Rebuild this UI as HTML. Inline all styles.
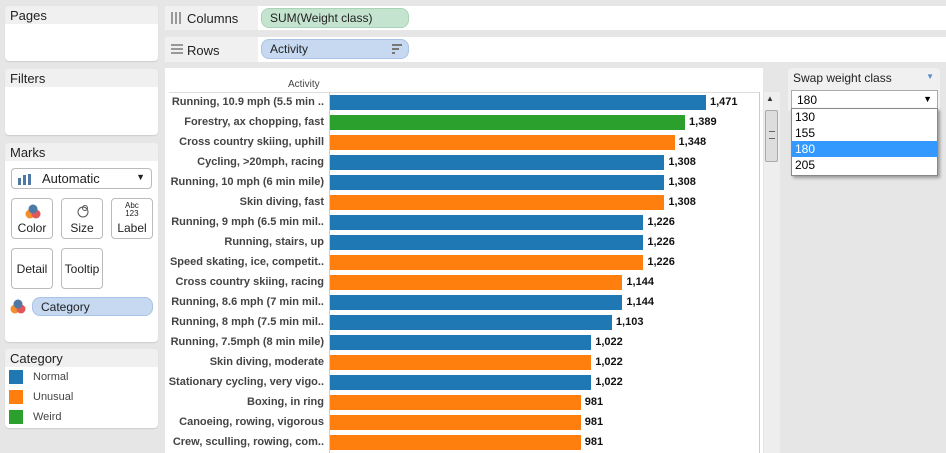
<!DOCTYPE html>
<html><head><meta charset="utf-8">
<style>
body{margin:0;width:946px;height:453px;background:#e6e6e6;font-family:"Liberation Sans",Arial,sans-serif;position:relative;overflow:hidden}
.abs{position:absolute}
.panel{position:absolute;background:#fff;border-radius:4px;box-shadow:0 1px 1px #ccc}
.ph{position:absolute;left:0;right:0;top:0;height:18px;background:#f0f0f0;font-size:13px;color:#222;padding:2px 0 0 5px;box-sizing:border-box;border-radius:4px 4px 0 0}
.card{position:absolute;border:1px solid #bbb;border-radius:4px;background:#fff;font-size:12px;color:#222;text-align:center;box-sizing:border-box}
.pill{position:absolute;border-radius:8px;font-size:12px;color:#222;padding:0 0 0 8px;line-height:18px;box-sizing:border-box;height:20px}
.lab{position:absolute;font-size:11px;font-weight:bold;color:#444;text-align:right;width:160px;left:164px}
.val{position:absolute;font-size:11px;font-weight:bold;color:#111}
</style></head><body>
<div class="panel" style="left:5px;top:6px;width:153px;height:55px"><div class="ph">Pages</div></div>
<div class="panel" style="left:5px;top:69px;width:153px;height:66px"><div class="ph">Filters</div></div>
<div class="panel" style="left:5px;top:143px;width:153px;height:199px"><div class="ph">Marks</div>
 <div class="card" style="left:6px;top:25px;width:141px;height:21px;text-align:left;padding:2px 0 0 30px;font-size:13px">Automatic
  <svg class="abs" style="left:6px;top:5px" width="14" height="11"><rect x="0" y="4" width="3" height="7" fill="#4e79a7"/><rect x="5" y="1" width="3" height="10" fill="#4e79a7"/><rect x="10" y="0" width="3" height="11" fill="#4e79a7"/></svg>
  <span class="abs" style="right:6px;top:3px;font-size:9px">▼</span></div>
 <div class="card" style="left:6px;top:55px;width:42px;height:41px;padding-top:22px">Color<svg class="abs" style="left:13px;top:4px" width="16" height="16"><circle cx="5" cy="11" r="4.5" fill="#f28e2b"/><circle cx="11" cy="11" r="4.5" fill="#e15759"/><circle cx="8" cy="6" r="4.5" fill="#4e79a7"/></svg></div>
 <div class="card" style="left:56px;top:55px;width:42px;height:41px;padding-top:22px">Size<svg class="abs" style="left:13px;top:4px" width="16" height="16"><circle cx="8" cy="9" r="5" fill="none" stroke="#555"/><circle cx="10" cy="5" r="2.5" fill="none" stroke="#555"/></svg></div>
 <div class="card" style="left:106px;top:55px;width:42px;height:41px;padding-top:22px">Label<span class="abs" style="left:13px;top:3px;font-size:8px;line-height:8px">Abc<br>123</span></div>
 <div class="card" style="left:6px;top:105px;width:42px;height:41px;padding-top:13px">Detail</div>
 <div class="card" style="left:56px;top:105px;width:42px;height:41px;padding-top:13px">Tooltip</div>
 <svg class="abs" style="left:5px;top:155px" width="16" height="16"><circle cx="5" cy="11" r="4.5" fill="#f28e2b"/><circle cx="11" cy="11" r="4.5" fill="#e15759"/><circle cx="8" cy="6" r="4.5" fill="#4e79a7"/></svg>
 <div class="pill" style="left:27px;top:154px;width:121px;height:19px;background:#c6d9f1;border:1px solid #a9c3e6">Category</div>
</div>
<div class="panel" style="left:5px;top:349px;width:153px;height:79px"><div class="ph">Category</div>
 <div class="abs" style="left:4px;top:21px;width:14px;height:14px;background:#1f77b4"></div><div class="abs" style="left:28px;top:22px;font-size:11px;color:#444">Normal</div>
 <div class="abs" style="left:4px;top:41px;width:14px;height:14px;background:#ff7f0e"></div><div class="abs" style="left:28px;top:42px;font-size:11px;color:#444">Unusual</div>
 <div class="abs" style="left:4px;top:61px;width:14px;height:14px;background:#2ca02c"></div><div class="abs" style="left:28px;top:62px;font-size:11px;color:#444">Weird</div>
</div>
<div class="abs" style="left:165px;top:6px;width:781px;height:24px;background:#fff">
 <div class="abs" style="left:0;top:0;width:93px;height:24px;background:#f0f0f0"></div>
 <svg class="abs" style="left:6px;top:6px" width="12" height="12"><rect x="0" y="0" width="2" height="12" fill="#999"/><rect x="4" y="0" width="2" height="12" fill="#999"/><rect x="8" y="0" width="2" height="12" fill="#999"/></svg>
 <div class="abs" style="left:22px;top:5px;font-size:13px;color:#222">Columns</div>
 <div class="pill" style="left:96px;top:2px;width:148px;background:#c5e4cf;border:1px solid #a8d4b5">SUM(Weight class)</div>
</div>
<div class="abs" style="left:165px;top:37px;width:781px;height:25px;background:#fff">
 <div class="abs" style="left:0;top:0;width:93px;height:25px;background:#f0f0f0"></div>
 <svg class="abs" style="left:6px;top:7px" width="12" height="11"><rect x="0" y="0" width="12" height="2" fill="#999"/><rect x="0" y="4" width="12" height="2" fill="#999"/><rect x="0" y="8" width="12" height="2" fill="#999"/></svg>
 <div class="abs" style="left:22px;top:6px;font-size:13px;color:#222">Rows</div>
 <div class="pill" style="left:96px;top:2px;width:148px;background:#c6d9f1;border:1px solid #a9c3e6">Activity<span class="abs" style="right:6px;top:4px;width:10px;height:10px"><span class="abs" style="left:0;top:0;width:10px;height:2px;background:#777"></span><span class="abs" style="left:0;top:4px;width:7px;height:2px;background:#777"></span><span class="abs" style="left:0;top:8px;width:3px;height:2px;background:#777"></span></span></div>
</div>
<div class="abs" style="left:165px;top:68px;width:598px;height:385px;background:#fff"></div>
<div class="abs" style="left:288px;top:79px;font-size:10px;color:#444">Activity</div>
<div class="abs" style="left:169px;top:92px;width:590px;height:1px;background:#ddd"></div>
<div class="abs" style="left:329px;top:92px;width:1px;height:361px;background:#ccc"></div>
<div class="abs" style="left:759px;top:92px;width:1px;height:361px;background:#ccc"></div>
<div class="abs" style="left:764px;top:92px;width:16px;height:361px;background:#eee">
 <div class="abs" style="left:2px;top:2px;font-size:8px;color:#333">▲</div>
 <div class="abs" style="left:1px;top:18px;width:13px;height:52px;background:#ddd;border:1px solid #aaa;border-radius:2px;box-sizing:border-box"><div class="abs" style="left:3px;top:20px;width:6px;height:6px;border-top:1px solid #666;border-bottom:1px solid #666"></div></div>
</div>
<div id="bars"></div>
<div class="abs" style="left:788px;top:68px;width:152px;height:120px">
 <div class="ph" style="background:#f0f0f0;height:20px;font-size:12px;padding-top:3px">Swap weight class<span class="abs" style="right:6px;top:4px;font-size:8px;color:#5a8ec6">▼</span></div>
 <div class="abs" style="left:0;top:20px;width:152px;height:22px;background:#f0f0f0"></div>
 <div class="abs" style="left:3px;top:22px;width:147px;height:19px;background:#fff;border:1px solid #aaa;font-size:12px;padding:2px 0 0 5px;box-sizing:border-box">180<span class="abs" style="right:5px;top:3px;font-size:9px">▼</span></div>
 <div class="abs" style="left:3px;top:40px;width:145px;height:66px;background:#fff;border:1px solid #888;box-shadow:2px 2px 3px #999;font-size:12px;line-height:16px">
  <div style="height:16px;padding-left:3px">130</div>
  <div style="height:16px;padding-left:3px">155</div>
  <div style="height:16px;padding-left:3px;background:#3399ff;color:#fff">180</div>
  <div style="height:16px;padding-left:3px">205</div>
 </div>
</div>
<script>
const activities=["Running, 10.9 mph (5.5 min ..","Forestry, ax chopping, fast","Cross country skiing, uphill","Cycling, >20mph, racing","Running, 10 mph (6 min mile)","Skin diving, fast","Running, 9 mph (6.5 min mil..","Running, stairs, up","Speed skating, ice, competit..","Cross country skiing, racing","Running, 8.6 mph (7 min mil..","Running, 8 mph (7.5 min mil..","Running, 7.5mph (8 min mile)","Skin diving, moderate","Stationary cycling, very vigo..","Boxing, in ring","Canoeing, rowing, vigorous","Crew, sculling, rowing, com.."];
const values=[1471,1389,1348,1308,1308,1308,1226,1226,1226,1144,1144,1103,1022,1022,1022,981,981,981];
const categories=["Normal","Weird","Unusual","Normal","Normal","Unusual","Normal","Normal","Unusual","Unusual","Normal","Normal","Normal","Unusual","Normal","Unusual","Unusual","Unusual"];
const colors={Normal:"#1f77b4",Unusual:"#ff7f0e",Weird:"#2ca02c"};
const x0=330,pxPer=376/1471,y0=95,pitch=20;
const xs=v=>v*pxPer;
const c=document.getElementById('bars');
activities.forEach((a,i)=>{
 const y=y0+i*pitch;
 const l=document.createElement('div');l.className='lab';l.style.top=(y+1)+'px';l.textContent=a;
 
 
 c.appendChild(l);
 const b=document.createElement('div');b.className='abs';
 b.style.cssText=`left:${x0}px;top:${y}px;width:${xs(values[i])}px;height:15px;background:${colors[categories[i]]}`;
 
 
 c.appendChild(b);
 const v=document.createElement('div');v.className='val';v.style.left=(x0+xs(values[i])+4)+'px';v.style.top=(y+1)+'px';
 v.textContent=values[i].toLocaleString('en-US');
 
 
 c.appendChild(v);
});
</script>
</body></html>
